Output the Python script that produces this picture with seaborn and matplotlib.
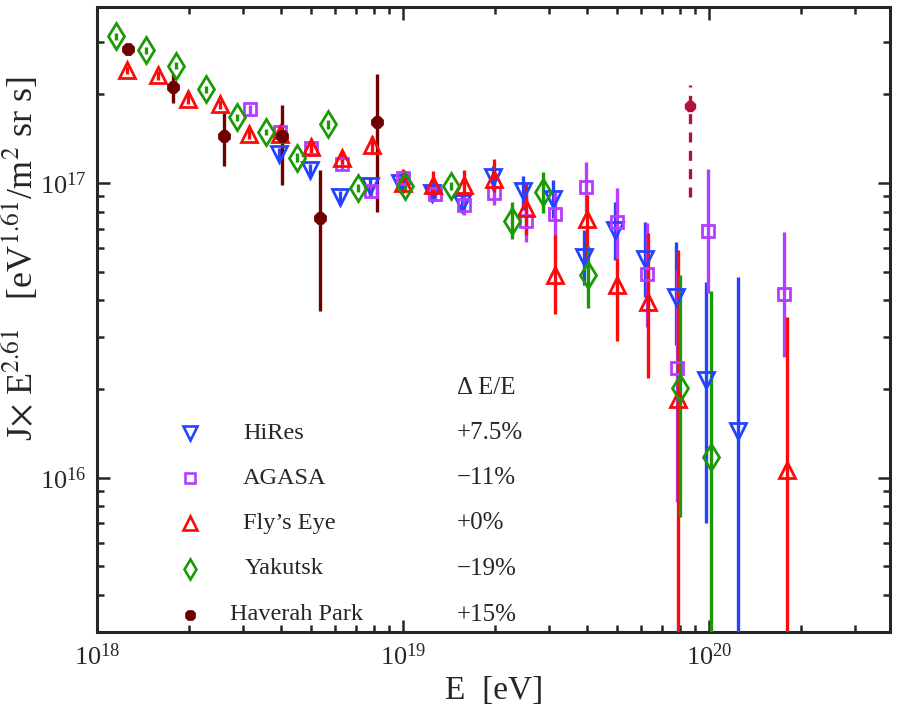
"""
plot.py - cosmic ray flux spectrum (J x E^2.61) from five experiments
"""

import matplotlib
matplotlib.use("Agg")

import numpy as np
import matplotlib.pyplot as plt
import matplotlib.ticker as mticker
import seaborn as sns

# ---- data ----
hires_E = [3.94e18, 4.97e18, 6.22e18, 7.80e18, 9.78e18, 1.24e19, 1.56e19, 1.97e19,
           2.47e19, 3.09e19, 3.91e19, 4.93e19, 6.18e19, 7.80e19, 9.77e19, 1.24e20]
hires_J = [1.25e17, 1.11e17, 8.97e16, 9.77e16, 1.00e17, 9.25e16, 8.55e16, 1.05e17,
           9.39e16, 8.83e16, 5.61e16, 6.93e16, 5.52e16, 4.11e16, 2.15e16, 1.44e16]
hires_hi = [1.31e17, 1.16e17, 9.40e16, 1.04e17, 1.05e17, 9.90e16, 9.20e16, 1.14e17,
            1.06e17, 1.02e17, 6.93e16, 8.63e16, 7.38e16, 6.31e16, 4.61e16, 4.80e16]
hires_lo = [1.19e17, 1.06e17, 8.55e16, 8.97e16, 9.50e16, 8.60e16, 7.90e16, 9.46e16,
            8.10e16, 7.60e16, 4.51e16, 5.48e16, 4.11e16, 2.82e16, 7.03e15, 1.0e15]

agasa_E = [3.16e18, 3.96e18, 5.00e18, 6.32e18, 7.85e18, 1.00e19, 1.27e19, 1.58e19, 1.98e19,
           2.51e19, 3.14e19, 3.96e19, 5.00e19, 6.26e19, 7.85e19, 9.93e19, 1.76e20]
agasa_J = [1.78e17, 1.49e17, 1.31e17, 1.16e17, 9.39e16, 1.04e17, 9.18e16, 8.42e16, 9.25e16,
           7.43e16, 7.85e16, 9.69e16, 7.38e16, 4.92e16, 2.36e16, 6.87e16, 4.21e16]
agasa_hi = [1.84e17, 1.55e17, 1.37e17, 1.21e17, 9.80e16, 1.09e17, 9.70e16, 9.10e16, 1.04e17,
            9.25e16, 9.30e16, 1.18e17, 9.62e16, 7.31e16, 5.07e16, 1.12e17, 6.82e16]
agasa_lo = [1.72e17, 1.43e17, 1.25e17, 1.11e17, 9.00e16, 9.90e16, 8.70e16, 7.80e16, 8.40e16,
            6.31e16, 6.52e16, 7.98e16, 5.57e16, 3.25e16, 8.30e15, 4.24e16, 2.57e16]

flyseye_E = [1.25e18, 1.58e18, 1.98e18, 2.51e18, 3.14e18, 3.96e18, 5.00e18, 6.32e18, 7.92e18,
             1.00e19, 1.25e19, 1.58e19, 1.98e19, 2.51e19, 3.14e19, 3.99e19, 5.00e19, 6.32e19,
             7.92e19, 1.79e20]
flyseye_J = [2.42e17, 2.32e17, 1.93e17, 1.85e17, 1.47e17, 1.47e17, 1.33e17, 1.22e17, 1.35e17,
             1.00e17, 9.84e16, 9.84e16, 1.03e17, 8.22e16, 4.88e16, 7.55e16, 4.51e16, 3.95e16,
             1.85e16, 1.06e16]
flyseye_hi = [2.50e17, 2.40e17, 2.00e17, 1.92e17, 1.53e17, 1.53e17, 1.40e17, 1.28e17, 1.44e17,
              1.12e17, 1.10e17, 1.11e17, 1.21e17, 1.00e17, 6.67e16, 9.10e16, 5.57e16, 6.77e16,
              5.93e16, 3.51e16]
flyseye_lo = [2.34e17, 2.24e17, 1.86e17, 1.78e17, 1.41e17, 1.41e17, 1.26e17, 1.16e17, 1.25e17,
              9.25e16, 9.10e16, 9.10e16, 9.30e16, 6.67e16, 3.60e16, 5.40e16, 2.91e16, 2.18e16,
              1.0e15, 1.0e15]

yakutsk_E = [1.15e18, 1.44e18, 1.81e18, 2.27e18, 2.87e18, 3.57e18, 4.51e18, 5.69e18,
             7.13e18, 1.01e19, 1.43e19, 2.27e19, 2.87e19, 4.03e19, 8.03e19, 1.01e20]
yakutsk_J = [3.15e17, 2.82e17, 2.50e17, 2.08e17, 1.67e17, 1.49e17, 1.22e17, 1.58e17,
             9.62e16, 9.80e16, 9.80e16, 7.43e16, 9.33e16, 4.87e16, 2.02e16, 1.18e16]
yakutsk_hi = [3.24e17, 2.90e17, 2.57e17, 2.14e17, 1.72e17, 1.53e17, 1.26e17, 1.63e17,
              9.90e16, 1.01e17, 1.01e17, 8.63e16, 1.09e17, 6.11e16, 4.88e16, 4.31e16]
yakutsk_lo = [3.06e17, 2.74e17, 2.43e17, 2.02e17, 1.62e17, 1.45e17, 1.18e17, 1.53e17,
              9.34e16, 9.50e16, 9.50e16, 6.46e16, 7.90e16, 3.77e16, 7.38e15, 1.0e15]

haverah_E = [1.26e18, 1.77e18, 2.60e18, 4.03e18, 5.36e18, 8.22e18]
haverah_J = [2.85e17, 2.12e17, 1.44e17, 1.44e17, 7.61e16, 1.61e17]
haverah_hi = [2.90e17, 2.34e17, 1.73e17, 1.84e17, 1.11e17, 2.34e17]
haverah_lo = [2.80e17, 1.87e17, 1.14e17, 9.84e16, 3.68e16, 7.98e16]

# single highest-energy Haverah Park event, drawn dashed
haverah_top_E = [8.67e19]
haverah_top_J = [1.82e17]
haverah_top_hi = [2.15e17]
haverah_top_lo = [8.97e16]

legend_names = ["HiRes", "AGASA", "Fly\u2019s Eye", "Yakutsk", "Haverah Park"]
legend_shift = ["+7.5%", "\u221211%", "+0%", "\u221219%", "+15%"]

# ---- style ----
sns.set_theme(style="ticks")
plt.rcParams["font.family"] = ["Liberation Serif", "DejaVu Serif"]
plt.rcParams["mathtext.fontset"] = "stix"
plt.rcParams["axes.linewidth"] = 2.2

C_HIRES = "#2443ff"
C_AGASA = "#b63cff"
C_FLY = "#ff0a0a"
C_YAK = "#1c9a05"
C_HP = "#6e0000"
C_HP_TOP = "#b2133c"

series = [
    (hires_E, hires_J, hires_lo, hires_hi, C_HIRES, "v", 12, "none"),
    (agasa_E, agasa_J, agasa_lo, agasa_hi, C_AGASA, "s", 8.5, "none"),
    (flyseye_E, flyseye_J, flyseye_lo, flyseye_hi, C_FLY, "^", 12, "none"),
    (yakutsk_E, yakutsk_J, yakutsk_lo, yakutsk_hi, C_YAK, "d", 13, "none"),
    (haverah_E, haverah_J, haverah_lo, haverah_hi, C_HP, "8", 8.5, C_HP),
]

fig = plt.figure(figsize=(9.0, 7.18), dpi=100)
ax = fig.add_axes([0.108, 0.12, 0.881, 0.870])

for E, J, lo, hi, col, mk, ms, fc in series:
    E = np.array(E)
    J = np.array(J)
    yerr = [J - np.array(lo), np.array(hi) - J]
    ax.errorbar(E, J, yerr=yerr, fmt=mk, ms=ms, mfc=fc, mec=col, mew=2.0,
                ecolor=col, elinewidth=2.4, capsize=0, zorder=3)

E = np.array(haverah_top_E)
J = np.array(haverah_top_J)
_, _, bars = ax.errorbar(E, J, yerr=[J - np.array(haverah_top_lo), np.array(haverah_top_hi) - J],
                         fmt="8", ms=7.5, mfc=C_HP_TOP, mec=C_HP_TOP, ecolor=C_HP_TOP,
                         elinewidth=2.4, capsize=0, zorder=3)
for b in bars:
    b.set_linestyle((0, (3, 2.5)))

ax.set_xscale("log")
ax.set_yscale("log")
ax.set_xlim(1e18, 3.9e20)
ax.set_ylim(3.0e15, 3.95e17)

ax.xaxis.set_major_locator(mticker.LogLocator(base=10, numticks=10))
ax.yaxis.set_major_locator(mticker.LogLocator(base=10, numticks=10))
ax.xaxis.set_minor_locator(mticker.LogLocator(base=10, subs=np.arange(2, 10), numticks=20))
ax.yaxis.set_minor_locator(mticker.LogLocator(base=10, subs=np.arange(2, 10), numticks=20))
ax.xaxis.set_minor_formatter(mticker.NullFormatter())
ax.yaxis.set_minor_formatter(mticker.NullFormatter())

ax.tick_params(which="both", direction="in", top=True, right=True, width=1.8)
ax.tick_params(which="major", length=9, labelsize=19, pad=8)
ax.tick_params(which="minor", length=5)

ax.set_xlabel("E  [eV]", fontsize=24, labelpad=4)
ax.set_ylabel(r"J$\times$ E$^{2.61}$   [eV$^{1.61}$/m$^2$ sr s]", fontsize=26)
ax.yaxis.set_label_coords(-0.072, 0.598)

# legend drawn by hand: marker, name, energy shift
rows_y = [0.318, 0.246, 0.174, 0.101, 0.027]
name_x = [0.184, 0.184, 0.184, 0.186, 0.168]
for (E, J, lo, hi, col, mk, ms, fc), y, nx, name, shift in zip(series, rows_y, name_x,
                                                               legend_names, legend_shift):
    lms = ms * 0.8
    ax.plot([0.117], [y], mk, ms=lms, mfc=fc, mec=col, mew=1.9, transform=ax.transAxes)
    ax.text(nx, y, name, transform=ax.transAxes, fontsize=17.5, va="center", ha="left")
    ax.text(0.454, y, shift, transform=ax.transAxes, fontsize=18, va="center", ha="left")

ax.text(0.454, 0.390, "\u0394 E/E", transform=ax.transAxes, fontsize=18, va="center", ha="left")

fig.savefig("out.png", dpi=100)
plt.close(fig)
